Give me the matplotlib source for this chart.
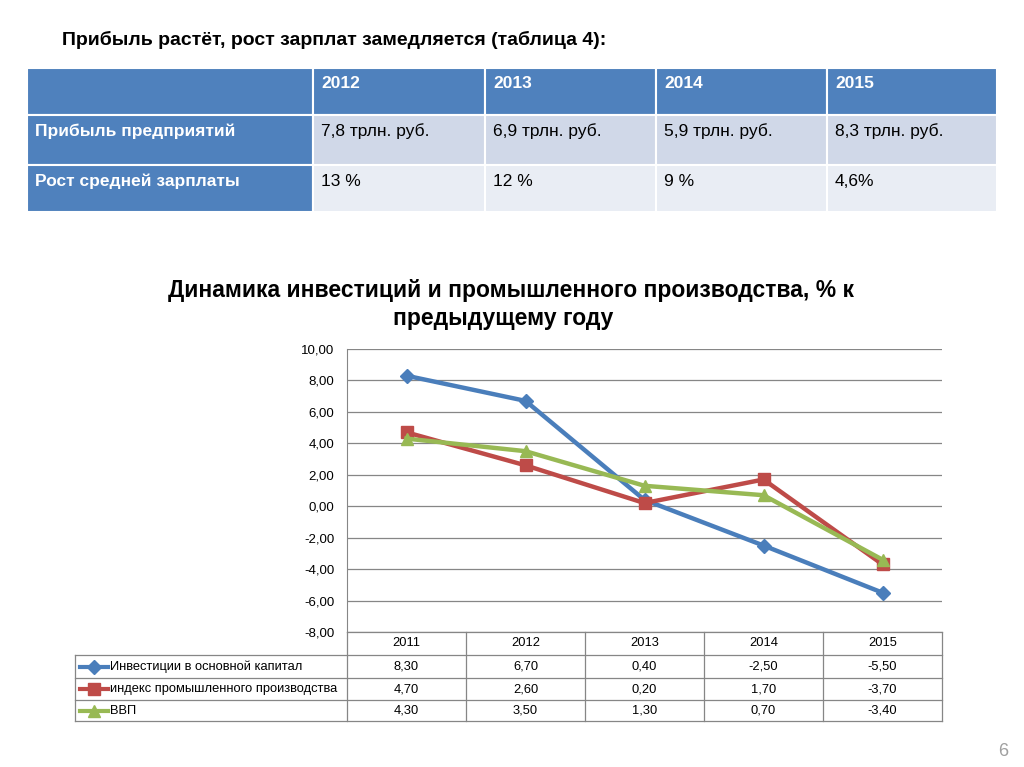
import numpy as np
import matplotlib.pyplot as plt
from matplotlib.patches import Rectangle
from matplotlib.lines import Line2D

plt.rcParams['font.family'] = ['Liberation Sans', 'DejaVu Sans']

# top table
tbl_years = ["2012", "2013", "2014", "2015"]
tbl_rows = ["Прибыль предприятий", "Рост средней зарплаты"]
tbl_profit = ["7,8 трлн. руб.", "6,9 трлн. руб.", "5,9 трлн. руб.", "8,3 трлн. руб."]
tbl_wage = ["13 %", "12 %", "9 %", "4,6%"]

# chart data
years = ["2011", "2012", "2013", "2014", "2015"]
invest = [8.30, 6.70, 0.40, -2.50, -5.50]
industry = [4.70, 2.60, 0.20, 1.70, -3.70]
gdp = [4.30, 3.50, 1.30, 0.70, -3.40]
series_names = ["Инвестиции в основной капитал",
                "индекс промышленного производства", "ВВП"]

W, H = 1024, 767
fig = plt.figure(figsize=(W / 100, H / 100), dpi=100)

# overlay in pixel coords
ov = fig.add_axes([0, 0, 1, 1])
ov.set_xlim(0, W)
ov.set_ylim(H, 0)
ov.axis("off")

ov.text(62, 40, "Прибыль растёт, рост зарплат замедляется (таблица 4):",
        fontsize=14, fontweight="bold", va="center", ha="left")

col_x = [27, 313, 485, 656, 827, 997]
row_y = [68, 115, 165, 212]
blue = "#4F81BD"
for r in range(3):
    for c in range(5):
        if r == 0 or c == 0:
            fc = blue
        elif r == 1:
            fc = "#D0D8E8"
        else:
            fc = "#E9EDF4"
        ov.add_patch(Rectangle((col_x[c], row_y[r]), col_x[c + 1] - col_x[c],
                               row_y[r + 1] - row_y[r], facecolor=fc,
                               edgecolor="white", linewidth=1.5))
for c, y in enumerate(tbl_years):
    ov.text(col_x[c + 1] + 8, 83, y, color="white", fontweight="bold",
            fontsize=12.5, va="center")
for r, (name, vals) in enumerate(zip(tbl_rows, [tbl_profit, tbl_wage])):
    ty = 131 + r * 50
    ov.text(col_x[0] + 8, ty, name, color="white", fontweight="bold",
            fontsize=12.5, va="center")
    for c, v in enumerate(vals):
        ov.text(col_x[c + 1] + 8, ty, v, color="black", fontsize=12.5,
                va="center")

ov.text(511, 290, "Динамика инвестиций и промышленного производства, % к",
        fontsize=16.5, fontweight="bold", ha="center", va="center")
ov.text(503, 318, "предыдущему году", fontsize=16.5, fontweight="bold",
        ha="center", va="center")

# line chart
px0, px1, py0, py1 = 347, 942, 349, 632
ax = fig.add_axes([px0 / W, 1 - py1 / H, (px1 - px0) / W, (py1 - py0) / H])
ax.set_zorder(2)
ax.patch.set_alpha(0)
x = np.arange(len(years))
colors = ["#4A7EBB", "#BE4B48", "#98B954"]
markers = ["D", "s", "^"]
msizes = [7, 8, 8]
for vals, col, mk, ms in zip([invest, industry, gdp], colors, markers, msizes):
    ax.plot(x, vals, color=col, linewidth=3.2, marker=mk, markersize=ms,
            zorder=3)
ax.set_xlim(-0.5, len(years) - 0.5)
ax.set_ylim(-8, 10)
ax.set_yticks(np.arange(-8, 10.1, 2))
ax.set_yticklabels([f"{v:.2f}".replace(".", ",") for v in np.arange(-8, 10.1, 2)],
                   fontsize=9.5)
ax.set_xticks([])
ax.grid(axis="y", color="#868686", linewidth=0.9)
for s in ["top", "right", "bottom"]:
    ax.spines[s].set_visible(False)
ax.spines["left"].set_color("#868686")
ax.tick_params(axis="y", length=0, pad=9)

# data table under chart
cw = (px1 - px0) / len(years)
tr = [632, 655, 678, 700, 721]
gc = "#868686"
lw = 0.9
ov.plot([px0, px1], [tr[0], tr[0]], color=gc, lw=lw)
for y in tr[1:]:
    ov.plot([75, px1], [y, y], color=gc, lw=lw)
ov.plot([75, 75], [tr[1], tr[4]], color=gc, lw=lw)
for i in range(len(years) + 1):
    ov.plot([px0 + i * cw] * 2, [tr[0], tr[4]], color=gc, lw=lw)
for i, yr in enumerate(years):
    ov.text(px0 + (i + 0.5) * cw, (tr[0] + tr[1]) / 2, yr, ha="center",
            va="center", fontsize=9.3)
for r, (name, vals, col, mk, ms) in enumerate(
        zip(series_names, [invest, industry, gdp], colors, markers, msizes)):
    yc = (tr[r + 1] + tr[r + 2]) / 2
    ov.add_line(Line2D([80, 108], [yc, yc], color=col, lw=3))
    ov.plot([94], [yc], marker=mk, color=col, markersize=ms)
    ov.text(110, yc, name, ha="left", va="center", fontsize=9.3)
    for i, v in enumerate(vals):
        ov.text(px0 + (i + 0.5) * cw, yc, f"{v:.2f}".replace(".", ","),
                ha="center", va="center", fontsize=9.3)

ov.text(1003, 751, "6", color="#A0A0A0", fontsize=13, ha="center",
        va="center")

fig.savefig("out.png", dpi=100)
